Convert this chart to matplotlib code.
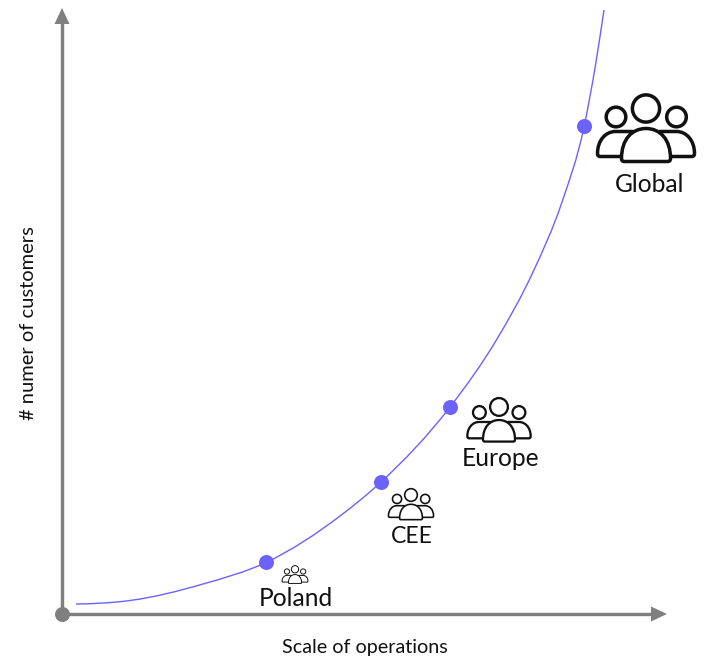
import matplotlib
matplotlib.use("Agg")
import matplotlib.pyplot as plt
from matplotlib.patches import Circle, PathPatch, Polygon
from matplotlib.path import Path

plt.rcParams['font.family'] = ['Lato', 'DejaVu Sans']

# Values, in image pixels
curve_x = [76, 130, 203, 267, 340, 381, 450, 497, 533, 562, 584, 596, 604]
curve_y = [604, 600.5, 584, 562, 516, 482, 407, 339, 272, 202, 127, 62, 10]
marker_x = [266, 381, 450, 584]
marker_y = [562, 482, 407, 126]
labels = ["Poland", "CEE", "Europe", "Global"]
label_x = [296, 412, 501, 649.5]
label_y = [598, 536.5, 458, 184]
label_size = [17.7, 16.6, 17.7, 17.7]
icon_x = [295, 411, 499, 646]
icon_y = [575, 505, 421, 130]
icon_w = [27, 47, 66, 101]
x_title = "Scale of operations"
y_title = "# numer of customers"

GREY = "#7f7f7f"
PURPLE = "#6c63ff"
px = 0.72

fig = plt.figure(figsize=(7.07, 6.61), dpi=100)
ax = fig.add_axes([0, 0, 1, 1])
ax.set_xlim(0, 707)
ax.set_ylim(661, 0)
ax.axis("off")

# Axes
ax.plot([62, 62], [614, 22], color=GREY, lw=3.4 * px, solid_capstyle="butt", zorder=1)
ax.plot([62, 652], [614, 614], color=GREY, lw=3.4 * px, solid_capstyle="butt", zorder=1)
ax.add_patch(Polygon([[54.5, 24], [62, 8], [69.5, 24]], closed=True, fc=GREY, ec="none", zorder=1))
ax.add_patch(Polygon([[651, 606.5], [667, 614], [651, 621.5]], closed=True, fc=GREY, ec="none", zorder=1))
ax.scatter([62], [614], s=(15 * px) ** 2, color=GREY, linewidths=0, zorder=2)

# Curve and points: smooth path through the read knots
n = len(curve_x)
slopes = []
for i in range(n):
    if i == 0:
        slopes.append(-0.01)
    elif i == n - 1:
        slopes.append((curve_y[i] - curve_y[i - 1]) / (curve_x[i] - curve_x[i - 1]))
    else:
        h0 = curve_x[i] - curve_x[i - 1]
        h1 = curve_x[i + 1] - curve_x[i]
        d0 = (curve_y[i] - curve_y[i - 1]) / h0
        d1 = (curve_y[i + 1] - curve_y[i]) / h1
        slopes.append((d0 * h1 + d1 * h0) / (h0 + h1))
verts = [(curve_x[0], curve_y[0])]
codes = [Path.MOVETO]
for i in range(n - 1):
    h = (curve_x[i + 1] - curve_x[i]) / 3
    verts += [(curve_x[i] + h, curve_y[i] + slopes[i] * h),
              (curve_x[i + 1] - h, curve_y[i + 1] - slopes[i + 1] * h),
              (curve_x[i + 1], curve_y[i + 1])]
    codes += [Path.CURVE4] * 3
ax.add_patch(PathPatch(Path(verts, codes), fc="none", ec=PURPLE, lw=1.4 * px, zorder=3))
ax.scatter(marker_x, marker_y, s=(15 * px) ** 2, color=PURPLE, linewidths=0, zorder=4)


def people(cx, cy, width):
    s = width / 101.0
    lw = max(3.5 * s * px, 0.7)
    ec = "#111111"

    def add(v, c, z):
        v = [(cx + a * s, cy + b * s) for a, b in v]
        ax.add_patch(PathPatch(Path(v, c), fc="white", ec=ec, lw=lw, joinstyle="round", zorder=z))

    # side bodies: (outer x, direction)
    for x0, d in [(-48.5, 1), (48.5, -1)]:
        top, bot = 1.5, 26.5
        v = [(x0, bot - 3), (x0, top + 9), (x0 + d * 8, top), (x0 + d * 18, top),
             (x0 + d * 35, top), (x0 + d * 35, bot), (x0 + d * 3, bot),
             (x0 + d * 1, bot), (x0, bot - 1), (x0, bot - 3)]
        c = [Path.MOVETO] + [Path.CURVE4] * 3 + [Path.LINETO] * 3 + [Path.CURVE4] * 3
        add(v, c, 5)

    # centre body
    hw, top, bot = 24.5, -1.5, 31.5
    v = [(-hw, bot - 3), (-hw, top + 11), (-hw * 0.58, top), (0, top),
         (hw * 0.58, top), (hw, top + 11), (hw, bot - 3),
         (hw, bot - 1), (hw - 1, bot), (hw - 3, bot),
         (-hw + 3, bot), (-hw + 1, bot), (-hw, bot - 1), (-hw, bot - 3)]
    c = [Path.MOVETO] + [Path.CURVE4] * 9 + [Path.LINETO] + [Path.CURVE4] * 3
    add(v, c, 6)

    for dx, dy, r in [(-30, -13, 9.8), (30.5, -13, 9.8), (0, -21.5, 13.6)]:
        ax.add_patch(Circle((cx + dx * s, cy + dy * s), r * s, fc="white", ec=ec, lw=lw, zorder=7))


for a, b, w in zip(icon_x, icon_y, icon_w):
    people(a, b, w)

for t, a, b, fs in zip(labels, label_x, label_y, label_size):
    ax.text(a, b, t, ha="center", va="center", fontsize=fs, color="#111111", zorder=8)

ax.text(364.5, 647.5, x_title, ha="center", va="center", fontsize=14.2, color="#111111")
ax.text(29, 323, y_title, ha="center", va="center", rotation=90, fontsize=14.5, color="#111111")

fig.savefig("out.png", dpi=100, facecolor="white")
